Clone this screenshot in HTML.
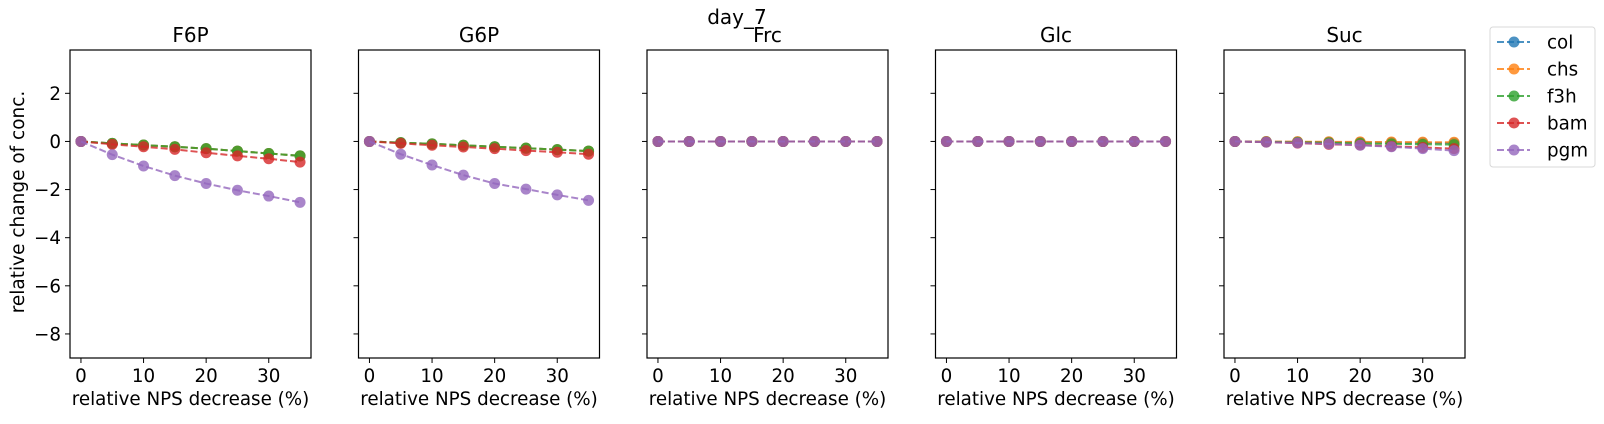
<!DOCTYPE html>
<html><head><meta charset="utf-8"><style>
body{margin:0;background:#fff;}
svg text{font-family:"DejaVu Sans","Liberation Sans",sans-serif;fill:#000;}
</style></head><body>
<svg id="chart" width="1604" height="419" xmlns="http://www.w3.org/2000/svg"></svg>
<script>
const xValues=[0,5,10,15,20,25,30,35];
const panelTitles=["F6P","G6P","Frc","Glc","Suc"];
const seriesNames=["col","chs","f3h","bam","pgm"];
const seriesColors=["#1f77b4","#ff7f0e","#2ca02c","#d62728","#9467bd"];
const yTicks=[2,0,-2,-4,-6,-8];
const xTicks=[0,10,20,30];
const f6pCol=[0,-0.08,-0.15,-0.22,-0.3,-0.4,-0.5,-0.6];
const f6pChs=[0,-0.08,-0.15,-0.22,-0.3,-0.4,-0.5,-0.6];
const f6pF3h=[0,-0.08,-0.15,-0.22,-0.3,-0.4,-0.5,-0.6];
const f6pBam=[0,-0.12,-0.22,-0.33,-0.47,-0.6,-0.72,-0.86];
const f6pPgm=[0,-0.55,-1.02,-1.42,-1.75,-2.03,-2.27,-2.53];
const g6pCol=[0,-0.05,-0.1,-0.16,-0.22,-0.28,-0.34,-0.4];
const g6pChs=[0,-0.05,-0.1,-0.16,-0.22,-0.28,-0.34,-0.4];
const g6pF3h=[0,-0.05,-0.1,-0.16,-0.22,-0.28,-0.34,-0.4];
const g6pBam=[0,-0.08,-0.16,-0.23,-0.3,-0.38,-0.45,-0.53];
const g6pPgm=[0,-0.53,-0.98,-1.4,-1.75,-1.98,-2.22,-2.45];
const frcAll=[0,0,0,0,0,0,0,0];
const glcAll=[0,0,0,0,0,0,0,0];
const sucCol=[0,-0.01,-0.02,-0.03,-0.04,-0.05,-0.06,-0.07];
const sucChs=[0,-0.005,-0.01,-0.015,-0.02,-0.025,-0.03,-0.035];
const sucF3h=[0,-0.02,-0.04,-0.06,-0.08,-0.1,-0.12,-0.13];
const sucBam=[0,-0.03,-0.07,-0.12,-0.15,-0.2,-0.25,-0.3];
const sucPgm=[0,-0.03,-0.06,-0.1,-0.16,-0.22,-0.3,-0.38];
const panelData=[
 [f6pCol,f6pChs,f6pF3h,f6pBam,f6pPgm],
 [g6pCol,g6pChs,g6pF3h,g6pBam,g6pPgm],
 [frcAll,frcAll,frcAll,frcAll,frcAll],
 [glcAll,glcAll,glcAll,glcAll,glcAll],
 [sucCol,sucChs,sucF3h,sucBam,sucPgm]];

const NS="http://www.w3.org/2000/svg";
const svg=document.getElementById('chart');
function mk(tag,attrs,parent,text){const e=document.createElementNS(NS,tag);for(const k in attrs)e.setAttribute(k,attrs[k]);if(text!==undefined)e.textContent=text;(parent||svg).appendChild(e);return e;}
const plotTop=50,plotBot=358,pw=241,lefts=[70,358.5,647,935.5,1224];
const xmin=-1.75,xmax=36.75,ymin=-9,ymax=3.8;
const ft=mk('text',{x:737,y:24,'font-size':20,'text-anchor':'middle'},svg,'day_7');


panelTitles.forEach((name,pi)=>{
 const L=lefts[pi];
 const xs=v=>L+(v-xmin)/(xmax-xmin)*pw;
 const ys=v=>plotTop+(ymax-v)/(ymax-ymin)*(plotBot-plotTop);
 const g=mk('g',{});
 
 
 const ti=mk('text',{x:L+pw/2,y:42,'font-size':20,'text-anchor':'middle'},g,name);
 
 
 yTicks.forEach(v=>{
  mk('line',{x1:L-5,x2:L,y1:ys(v),y2:ys(v),stroke:'#000','stroke-width':1},g);
  if(pi===0){const tl=mk('text',{x:L-9,y:ys(v)+6.5,'font-size':18.3,'text-anchor':'end'},g,(v<0?'\u2212':'')+Math.abs(v));
   
   }
 });
 xTicks.forEach(v=>{
  mk('line',{x1:xs(v),x2:xs(v),y1:plotBot,y2:plotBot+5,stroke:'#000','stroke-width':1},g);
  const tl=mk('text',{x:xs(v),y:plotBot+24,'font-size':18.3,'text-anchor':'middle'},g,String(v));
  
  
 });
 const xl=mk('text',{x:L+pw/2,y:plotBot+47,'font-size':18.3,'text-anchor':'middle'},g,'relative NPS decrease (%)');
 
 
 panelData[pi].forEach((ser,si)=>{
  const pts=ser.map((v,i)=>xs(xValues[i])+','+ys(v)).join(' ');
  const pl=mk('polyline',{points:pts,fill:'none',stroke:seriesColors[si],'stroke-width':2,'stroke-dasharray':'7,3',opacity:0.8},g);
  
  
  ser.forEach((v,i)=>{
   const c=mk('circle',{cx:xs(xValues[i]),cy:ys(v),r:5.5,fill:seriesColors[si],opacity:0.8},g);
   
   
  });
 });
 mk('rect',{x:L,y:plotTop,width:pw,height:plotBot-plotTop,fill:'none',stroke:'#000','stroke-width':1.2},g);
});
const yl=mk('text',{x:0,y:0,'font-size':18.5,'text-anchor':'middle',transform:'translate(24,202) rotate(-90)'},svg,'relative change of conc.');


const lg=mk('g',{});


mk('rect',{x:1490,y:27,width:105,height:140,rx:3,fill:'#fff',stroke:'#d8d8d8','stroke-width':1},lg);
seriesNames.forEach((n,i)=>{
 const y=42+i*27;
 const e=mk('g',{},lg);
 
 
 mk('line',{x1:1497,x2:1530,y1:y,y2:y,stroke:seriesColors[i],'stroke-width':2,'stroke-dasharray':'7,3',opacity:0.8},e);
 mk('circle',{cx:1514,cy:y,r:5.5,fill:seriesColors[i],opacity:0.8},e);
 mk('text',{x:1547,y:y+6.5,'font-size':18.3},e,n);
});
</script>
</body></html>
